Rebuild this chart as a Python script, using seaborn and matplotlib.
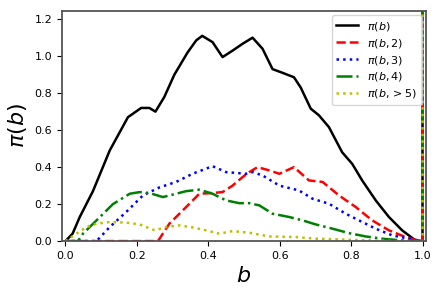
import pandas as pd
import seaborn as sns
import matplotlib.pyplot as plt

# values; the last point of each series is the spike at b = 1
b_all = [0.0, 0.02, 0.04, 0.077, 0.124, 0.175, 0.212, 0.235, 0.252, 0.277, 0.305, 0.342,
         0.366, 0.383, 0.412, 0.44, 0.468, 0.496, 0.524, 0.552, 0.58, 0.608, 0.64, 0.659,
         0.687, 0.71, 0.738, 0.775, 0.803, 0.831, 0.869, 0.906, 0.943, 0.98, 1.0, 1.0]
pi_all = [0.0, 0.04, 0.13, 0.27, 0.49, 0.67, 0.72, 0.72, 0.70, 0.78, 0.90, 1.02,
          1.085, 1.11, 1.076, 0.995, 1.03, 1.067, 1.10, 1.04, 0.93, 0.91, 0.886, 0.83,
          0.716, 0.68, 0.616, 0.48, 0.418, 0.328, 0.22, 0.13, 0.058, 0.004, 0.0, 50.0]

b_2 = [0.0, 0.259, 0.291, 0.338, 0.375, 0.412, 0.44, 0.468, 0.496, 0.515, 0.538, 0.571,
       0.599, 0.64, 0.682, 0.72, 0.766, 0.813, 0.859, 0.906, 0.952, 0.99, 1.0, 1.0]
pi_2 = [0.0, 0.0, 0.094, 0.184, 0.256, 0.26, 0.265, 0.30, 0.346, 0.373, 0.40, 0.382,
        0.364, 0.40, 0.328, 0.32, 0.247, 0.184, 0.112, 0.058, 0.022, 0.0, 0.0, 50.0]

b_3 = [0.0, 0.087, 0.124, 0.17, 0.217, 0.263, 0.31, 0.356, 0.412, 0.45, 0.506, 0.524,
       0.552, 0.599, 0.654, 0.692, 0.738, 0.785, 0.822, 0.869, 0.915, 0.962, 1.0, 1.0]
pi_3 = [0.0, 0.0, 0.076, 0.157, 0.247, 0.29, 0.32, 0.364, 0.405, 0.373, 0.364, 0.373,
        0.355, 0.30, 0.274, 0.229, 0.202, 0.148, 0.112, 0.067, 0.031, 0.013, 0.0, 50.0]

b_4 = [0.0, 0.035, 0.049, 0.087, 0.133, 0.18, 0.208, 0.235, 0.273, 0.31, 0.338, 0.375,
       0.412, 0.45, 0.487, 0.515, 0.543, 0.58, 0.627, 0.664, 0.701, 0.748, 0.794, 0.841,
       0.887, 0.934, 1.0, 1.0]
pi_4 = [0.0, 0.0, 0.04, 0.112, 0.20, 0.256, 0.265, 0.26, 0.238, 0.256, 0.27, 0.278,
        0.256, 0.22, 0.205, 0.205, 0.193, 0.148, 0.13, 0.112, 0.09, 0.067, 0.043, 0.025,
        0.013, 0.005, 0.0, 50.0]

b_5 = [0.0, 0.031, 0.059, 0.087, 0.124, 0.17, 0.208, 0.25, 0.282, 0.319, 0.356, 0.394,
       0.431, 0.468, 0.515, 0.571, 0.645, 0.701, 0.766, 0.831, 0.93, 1.0, 1.0]
pi_5 = [0.0, 0.04, 0.076, 0.094, 0.103, 0.10, 0.09, 0.058, 0.076, 0.085, 0.074, 0.058,
        0.04, 0.054, 0.045, 0.025, 0.022, 0.013, 0.009, 0.005, 0.0, 0.0, 50.0]

series = [
    (b_all, pi_all, r'$\pi(b)$', 'k', '-'),
    (b_2, pi_2, r'$\pi(b,2)$', 'r', '--'),
    (b_3, pi_3, r'$\pi(b,3)$', 'b', ':'),
    (b_4, pi_4, r'$\pi(b,4)$', 'g', '-.'),
    (b_5, pi_5, r'$\pi(b,>5)$', 'y', ':'),
]

fig, ax = plt.subplots(figsize=(4.42, 2.94), dpi=100)
for xs, ys, lab, col, ls in series:
    df = pd.DataFrame({'b': xs, 'pi': ys})
    sns.lineplot(data=df, x='b', y='pi', ax=ax, color=col, linestyle=ls,
                 linewidth=1.8, label=lab, sort=False, estimator=None)

ax.set_xlim(-0.01, 1.01)
ax.set_ylim(0, 1.245)
ax.set_xlabel(r'$b$', fontsize=16)
ax.set_ylabel(r'$\pi(b)$', fontsize=16)
ax.tick_params(labelsize=8)
for s in ax.spines.values():
    s.set_color('#555555')
    s.set_linewidth(1.3)
ax.legend(loc='upper right', fontsize=8, labelspacing=0.35, borderaxespad=0.4)
fig.subplots_adjust(left=0.14, right=0.964, bottom=0.18, top=0.963)
fig.savefig('out.png', dpi=100)
